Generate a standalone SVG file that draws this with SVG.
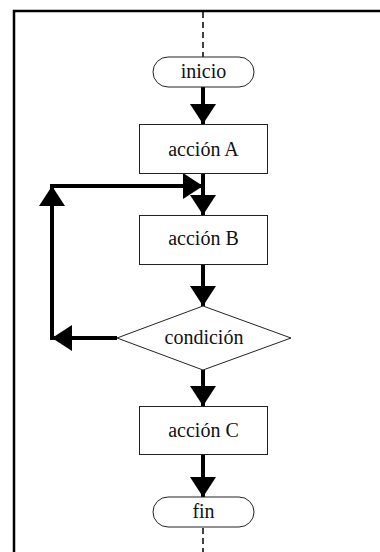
<svg xmlns="http://www.w3.org/2000/svg" width="380" height="552" viewBox="0 0 380 552">
<style>
.box{fill:#fff;stroke:#222;stroke-width:1}
.lbl{font-family:"Liberation Serif","Times New Roman",serif;font-size:20px;fill:#111;text-anchor:middle}
.edge{stroke:#000;stroke-width:4;fill:none}
.dash{stroke:#000;stroke-width:1.5;stroke-dasharray:6,4;fill:none}
</style>
<defs>
<marker id="ah" viewBox="0 0 20 26" refX="20" refY="13" markerWidth="20" markerHeight="26" markerUnits="userSpaceOnUse" orient="auto">
<path d="M0,0 L20,13 L0,26 Z" fill="#000"/>
</marker>
</defs>
<rect x="14" y="11" width="400" height="560" fill="none" stroke="#000" stroke-width="2.5"/>
<g id="connectors">
<line class="dash" x1="203" y1="12" x2="203" y2="57"/>
<line class="dash" x1="203" y1="528" x2="203" y2="552"/>
<line class="edge" x1="203" y1="87" x2="203" y2="124" marker-end="url(#ah)"/>
<line class="edge" x1="203" y1="173" x2="203" y2="215" marker-end="url(#ah)"/>
<line class="edge" x1="203" y1="264" x2="203" y2="306" marker-end="url(#ah)"/>
<line class="edge" x1="117" y1="338" x2="52" y2="338" marker-end="url(#ah)"/>
<line class="edge" x1="52" y1="340" x2="52" y2="186" marker-end="url(#ah)"/>
<line class="edge" x1="50" y1="186" x2="203" y2="186" marker-end="url(#ah)"/>
<line class="edge" x1="203" y1="370" x2="203" y2="406" marker-end="url(#ah)"/>
<line class="edge" x1="203" y1="454" x2="203" y2="497" marker-end="url(#ah)"/>
</g>
<g id="inicio">
<rect class="box" x="153" y="57" width="101" height="30" rx="15" ry="15"/>
<text class="lbl" x="203.5" y="78">inicio</text>
</g>
<g id="accionA">
<rect class="box" x="139.5" y="124.5" width="128" height="49"/>
<text class="lbl" x="203.5" y="156">acción A</text>
</g>
<g id="accionB">
<rect class="box" x="139.5" y="215.5" width="128" height="49"/>
<text class="lbl" x="203.5" y="245">acción B</text>
</g>
<g id="condicion">
<polygon class="box" points="203,306 291,338 203,370 117,338"/>
<text class="lbl" x="204" y="344">condición</text>
</g>
<g id="accionC">
<rect class="box" x="139.5" y="406.5" width="128" height="48"/>
<text class="lbl" x="203.5" y="437">acción C</text>
</g>
<g id="fin">
<rect class="box" x="153" y="497" width="101" height="30" rx="15" ry="15"/>
<text class="lbl" x="203.5" y="518">fin</text>
</g>
</svg>
